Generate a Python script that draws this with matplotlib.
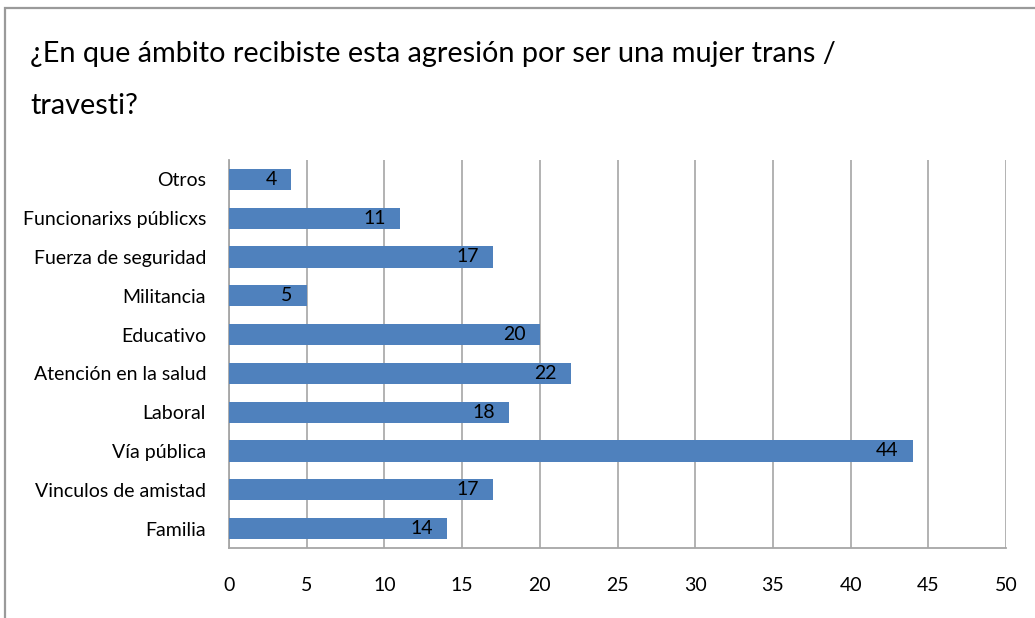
import matplotlib.pyplot as plt
from matplotlib.patches import Rectangle

# Respuestas por ámbito (de abajo hacia arriba)
ambitos = ['Familia', 'Vinculos de amistad', 'Vía pública', 'Laboral',
           'Atención en la salud', 'Educativo', 'Militancia',
           'Fuerza de seguridad', 'Funcionarixs públicxs', 'Otros']
cantidades = [14, 17, 44, 18, 22, 20, 5, 17, 11, 4]
xticks = [0, 5, 10, 15, 20, 25, 30, 35, 40, 45, 50]

titulo = ['¿En que ámbito recibiste esta agresión por ser una mujer trans /',
          'travesti?']

plt.rcParams['font.family'] = ['Lato', 'DejaVu Sans']

W, H = 1035, 618
fig = plt.figure(figsize=(W / 100, H / 100), dpi=100)

# marco del gráfico
fig.patches.append(Rectangle((5 / W, -0.1), 1.2, (H - 8) / H + 0.1,
                             transform=fig.transFigure, fill=False,
                             edgecolor='#9a9a9a', linewidth=1.6))

# título en dos renglones
for i, linea in enumerate(titulo):
    fig.text(30 / W, 1 - (62 + 52 * i) / H, linea, fontsize=20.8,
             va='baseline', ha='left', color='black')

ax = fig.add_axes([229 / W, 1 - 548 / H, (1006 - 229) / W, (548 - 160) / H])
y = range(len(ambitos))
bars = ax.barh(y, cantidades, height=0.55, color='#4F81BD', zorder=3)

for b, v in zip(bars, cantidades):
    ax.text(v - 0.9, b.get_y() + b.get_height() / 2, str(v),
            ha='right', va='center', fontsize=14, zorder=4)

ax.set_xlim(0, 50)
ax.set_ylim(-0.5, len(ambitos) - 0.5)
ax.set_xticks(xticks)
ax.set_yticks(list(y))
ax.set_yticklabels(ambitos, fontsize=14)
ax.tick_params(axis='both', length=0, labelsize=14)
ax.tick_params(axis='y', pad=16.5)
ax.tick_params(axis='x', pad=21)
ax.grid(axis='x', color='#a6a6a6', linewidth=1.2, zorder=0)
for s in ['top', 'right']:
    ax.spines[s].set_visible(False)
for s in ['left', 'bottom']:
    ax.spines[s].set_color('#a6a6a6')
    ax.spines[s].set_linewidth(1.3)

fig.savefig('out.png', dpi=100)
